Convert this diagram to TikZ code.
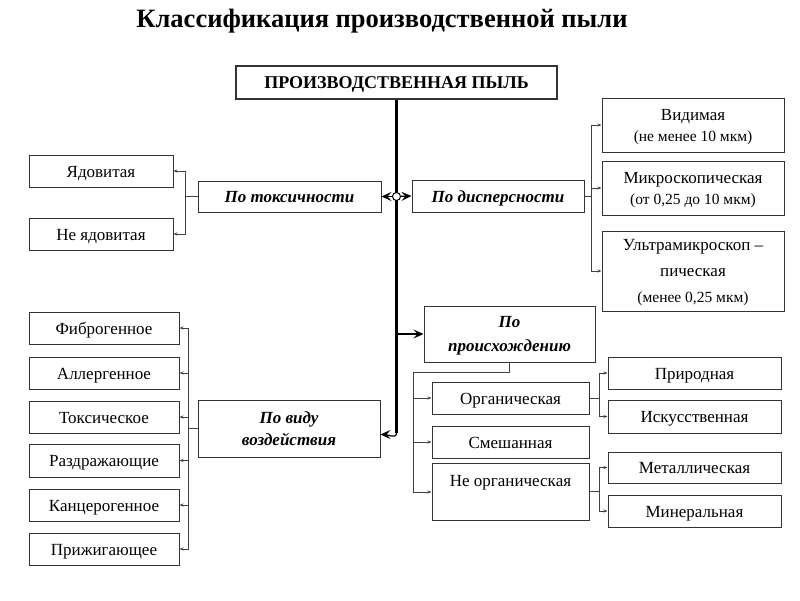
\documentclass[tikz,border=0pt]{standalone}
\usepackage{fontspec}
\setmainfont{Liberation Serif}
\usetikzlibrary{arrows.meta}

\begin{document}
\begin{tikzpicture}[x=1pt,y=-1pt]
        \tikzstyle{box}=[draw=black!80, line width=1pt, inner sep=2pt,
                text height=14pt, text depth=2pt, font=\fontsize{17}{21}\selectfont]
        \tikzstyle{mbox}=[draw=black!80, line width=1pt, inner sep=2pt, align=center,
                text depth=0pt, font=\fontsize{17}{21}\selectfont]
        \tikzstyle{head}=[box, font=\fontsize{17}{22}\selectfont\bfseries\itshape]
        \tikzstyle{mhead}=[mbox, font=\fontsize{17}{22}\selectfont\bfseries\itshape]
        \tikzstyle{small}=[draw=black!75, line width=0.8pt, -{Stealth[length=4pt,width=3pt]}]
        \tikzstyle{bigarr}=[draw=black, line width=1.2pt, -{Stealth[length=10pt,width=9pt,inset=4pt]}]
        \useasboundingbox (0,0) rectangle (800,600);
        % title and root
        \node (title) at (382,21) {\fontsize{26.5}{30}\selectfont\bfseries Классификация производственной пыли};
        \node [box, line width=1.2pt, minimum width=321pt, minimum height=33pt, font=\fontsize{18}{22}\selectfont\bfseries] (main) at (396.5,82.5) {ПРОИЗВОДСТВЕННАЯ ПЫЛЬ};
        % by toxicity
        \node [head, minimum width=183pt, minimum height=31pt] (tox) at (289.5,196.5) {По токсичности};
        \node [box, minimum width=144pt, minimum height=32pt] (yad) at (101,171) {Ядовитая};
        \node [box, minimum width=144pt, minimum height=32pt] (neyad) at (101,234) {Не ядовитая};
        % by dispersity
        \node [head, minimum width=172pt, minimum height=32pt] (disp) at (498,196) {По дисперсности};
        \node [mbox, minimum width=182pt, minimum height=54pt] (vid) at (693,125) {Видимая\\{\fontsize{15.5}{19}\selectfont(не менее 10 мкм)}};
        \node [mbox, minimum width=182pt, minimum height=54pt] (micro) at (693,188) {Микроскопическая\\{\fontsize{15.5}{19}\selectfont(от 0,25 до 10 мкм)}};
        \node [mbox, minimum width=182pt, minimum height=80pt, font=\fontsize{17}{26}\selectfont] (ultra) at (693,271) {Ультрамикроскоп --\\пическая\\{\fontsize{15.5}{19}\selectfont(менее 0,25 мкм)}};
        % by origin
        \node [mhead, minimum width=171pt, minimum height=56pt, font=\fontsize{17}{24}\selectfont\bfseries\itshape] (orig) at (509.5,334) {По\\происхождению};
        \node [box, minimum width=157pt, minimum height=32pt] (org) at (510.5,398) {Органическая};
        \node [box, minimum width=157pt, minimum height=32pt] (mix) at (510.5,442) {Смешанная};
        \node [mbox, minimum width=157pt, minimum height=57pt] (inorg) at (510.5,491.5) {Не органическая\\\mbox{}};
        \node [box, minimum width=173pt, minimum height=32pt] (nat) at (694.5,373) {Природная};
        \node [box, minimum width=173pt, minimum height=33pt] (art) at (694.5,416.5) {Искусственная};
        \node [box, minimum width=173pt, minimum height=31pt] (met) at (694.5,467.5) {Металлическая};
        \node [box, minimum width=173pt, minimum height=32pt] (mine) at (694.5,511) {Минеральная};
        % by kind of effect
        \node [mhead, minimum width=182pt, minimum height=57pt] (effect) at (289,428.5) {По виду\\воздействия};
        \node [box, minimum width=150pt, minimum height=32pt] (fib) at (104,328) {Фиброгенное};
        \node [box, minimum width=150pt, minimum height=32pt] (alg) at (104,373) {Аллергенное};
        \node [box, minimum width=150pt, minimum height=32pt] (toxc) at (104,417) {Токсическое};
        \node [box, minimum width=150pt, minimum height=33pt] (irr) at (104,460.5) {Раздражающие};
        \node [box, minimum width=150pt, minimum height=32pt] (canc) at (104,505) {Канцерогенное};
        \node [box, minimum width=150pt, minimum height=32pt] (burn) at (104,549) {Прижигающее};
        % spine
        \draw [line width=2.6pt] (main.south) -- (main.south |- 0,433);
        \draw [bigarr] (main.south |- 0,433) to [out=-90,in=0] ([yshift=-6pt]effect.east);
        \draw [bigarr] (main.south |- tox.east) -- (tox.east);
        \draw [bigarr] (main.south |- tox.east) -- (disp.west);
        \draw [line width=1pt, fill=white] (main.south |- tox.east) circle (4);
        \draw [bigarr] (main.south |- orig.west) -- (orig.west);
        % branches
        \foreach \n in {yad,neyad}
                \draw [small] (tox.west) -- ++(-12,0) |- (\n.east);
        \foreach \n in {vid,micro,ultra}
                \draw [small] (disp.east) -- ++(7,0) |- (\n.west);
        \foreach \n in {fib,alg,toxc,irr,canc,burn}
                \draw [small] (effect.west) -- ++(-9,0) |- (\n.east);
        \coordinate (ok) at (413,372);
        \draw [draw=black!75, line width=0.8pt] (orig.south) |- (ok);
        \foreach \n in {org,mix}
                \draw [small] (ok) |- (\n.west);
        \draw [small] (ok) |- ([yshift=-0.5pt]inorg.west);
        \foreach \n in {nat,art}
                \draw [small] (org.east) -- ++(10,0) |- (\n.west);
        \foreach \n in {met,mine}
                \draw [small] (inorg.east) -- ++(10,0) |- (\n.west);
\end{tikzpicture}
\end{document}
